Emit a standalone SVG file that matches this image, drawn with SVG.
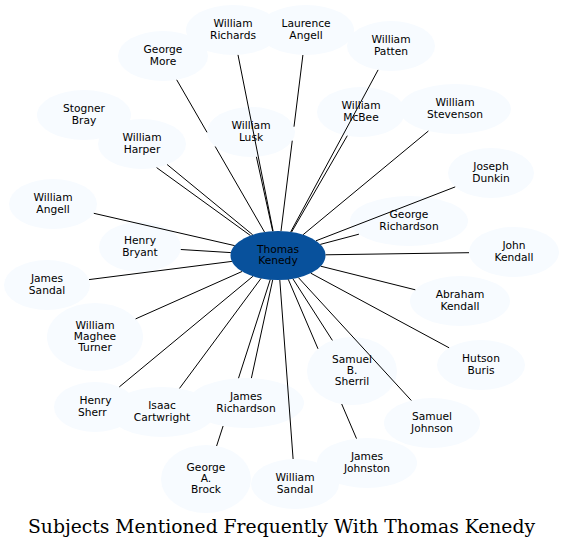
<svg xmlns="http://www.w3.org/2000/svg" width="564" height="549" viewBox="0 0 564 549">
<style>
.n ellipse{fill:#f7fbff;stroke:none}
.c ellipse{fill:#08519c;stroke:none}
text{font-family:"DejaVu Sans","Liberation Sans",sans-serif;font-size:10.67px;text-anchor:middle;fill:#000}
.t{font-family:"DejaVu Serif","Liberation Serif",serif;font-size:19px}
#edges path{stroke:#000;stroke-width:1;fill:none}
</style>
<rect width="564" height="549" fill="#fff"/>
<g id="nodes">
<g id="n-richards" class="n"><ellipse cx="233" cy="30" rx="47" ry="25"/><text x="233" y="27.4">William</text><text x="233" y="38.6">Richards</text></g>
<g id="n-laurence" class="n"><ellipse cx="306" cy="30" rx="48" ry="25"/><text x="306" y="27.4">Laurence</text><text x="306" y="38.6">Angell</text></g>
<g id="n-more" class="n"><ellipse cx="163" cy="56" rx="45" ry="25"/><text x="163" y="53.4">George</text><text x="163" y="64.6">More</text></g>
<g id="n-patten" class="n"><ellipse cx="391" cy="46" rx="44" ry="25"/><text x="391" y="43.4">William</text><text x="391" y="54.6">Patten</text></g>
<g id="n-bray" class="n"><ellipse cx="84" cy="115" rx="47" ry="25"/><text x="84" y="112.4">Stogner</text><text x="84" y="123.6">Bray</text></g>
<g id="n-harper" class="n"><ellipse cx="142" cy="144" rx="44" ry="25"/><text x="142" y="141.4">William</text><text x="142" y="152.6">Harper</text></g>
<g id="n-lusk" class="n"><ellipse cx="251" cy="132" rx="44" ry="25"/><text x="251" y="129.4">William</text><text x="251" y="140.6">Lusk</text></g>
<g id="n-mcbee" class="n"><ellipse cx="361" cy="112" rx="44" ry="25"/><text x="361" y="109.4">William</text><text x="361" y="120.6">McBee</text></g>
<g id="n-stevenson" class="n"><ellipse cx="455" cy="109" rx="56" ry="25"/><text x="455" y="106.4">William</text><text x="455" y="117.6">Stevenson</text></g>
<g id="n-dunkin" class="n"><ellipse cx="491" cy="173" rx="43" ry="25"/><text x="491" y="170.4">Joseph</text><text x="491" y="181.6">Dunkin</text></g>
<g id="n-grichardson" class="n"><ellipse cx="409" cy="221" rx="59" ry="25"/><text x="409" y="218.4">George</text><text x="409" y="229.6">Richardson</text></g>
<g id="n-wangell" class="n"><ellipse cx="53" cy="204" rx="44" ry="25"/><text x="53" y="201.4">William</text><text x="53" y="212.6">Angell</text></g>
<g id="n-bryant" class="n"><ellipse cx="140" cy="247" rx="41" ry="25"/><text x="140" y="244.4">Henry</text><text x="140" y="255.6">Bryant</text></g>
<g id="n-jkendall" class="n"><ellipse cx="514" cy="252" rx="45" ry="25"/><text x="514" y="249.4">John</text><text x="514" y="260.6">Kendall</text></g>
<g id="n-jsandal" class="n"><ellipse cx="47" cy="285" rx="43" ry="25"/><text x="47" y="282.4">James</text><text x="47" y="293.6">Sandal</text></g>
<g id="n-akendall" class="n"><ellipse cx="460" cy="301" rx="50" ry="25"/><text x="460" y="298.4">Abraham</text><text x="460" y="309.6">Kendall</text></g>
<g id="n-turner" class="n"><ellipse cx="95" cy="337" rx="48" ry="34"/><text x="95" y="328.8">William</text><text x="95" y="340">Maghee</text><text x="95" y="351.2">Turner</text></g>
<g id="n-ssherril" class="n"><ellipse cx="352" cy="371" rx="45" ry="34"/><text x="352" y="362.8">Samuel</text><text x="352" y="374">B.</text><text x="352" y="385.2">Sherril</text></g>
<g id="n-buris" class="n"><ellipse cx="481" cy="365" rx="44" ry="25"/><text x="481" y="362.4">Hutson</text><text x="481" y="373.6">Buris</text></g>
<g id="n-hsherr" class="n"><ellipse cx="95" cy="407" rx="41" ry="25"/><text x="95.5" y="404.4">Henry</text><text x="78" y="415.6" style="text-anchor:start">Sherr</text></g>
<g id="n-cartwright" class="n"><ellipse cx="162" cy="412" rx="53" ry="25"/><text x="162" y="409.4">Isaac</text><text x="162" y="420.6">Cartwright</text></g>
<g id="n-jrichardson" class="n"><ellipse cx="246" cy="403" rx="58" ry="25"/><text x="246" y="400.4">James</text><text x="246" y="411.6">Richardson</text></g>
<g id="n-sjohnson" class="n"><ellipse cx="432" cy="423" rx="48" ry="25"/><text x="432" y="420.4">Samuel</text><text x="432" y="431.6">Johnson</text></g>
<g id="n-johnston" class="n"><ellipse cx="367" cy="463" rx="50" ry="25"/><text x="367" y="460.4">James</text><text x="367" y="471.6">Johnston</text></g>
<g id="n-brock" class="n"><ellipse cx="206" cy="479" rx="45" ry="34"/><text x="206" y="470.8">George</text><text x="206" y="482">A.</text><text x="206" y="493.2">Brock</text></g>
<g id="n-wsandal" class="n"><ellipse cx="295" cy="484" rx="44" ry="25"/><text x="295" y="481.4">William</text><text x="295" y="492.6">Sandal</text></g>
<g id="n-kenedy" class="c"><ellipse cx="278" cy="255.5" rx="47.5" ry="24.5"/><text x="278" y="252.7">Thomas</text><text x="278" y="264.3">Kenedy</text></g>
</g>
<g id="edges">
<path d="M273.1,231.1L238,54.9"/>
<path d="M281,231.1L292.25,140.7M294,126.7L302.9,55"/>
<path d="M264.5,232L215.2,146.5M207,132.3L176.7,79.8"/>
<path d="M290.7,231.9L378.1,69.9"/>
<path d="M250.4,235.5L156.6,167.6"/>
<path d="M252.7,234.8L167.1,164.5"/>
<path d="M272.7,231.2L256.4,156.8"/>
<path d="M291.6,232L347.3,135.7"/>
<path d="M303.1,234.7L428.4,131"/>
<path d="M316,240.8L455.2,186.9"/>
<path d="M320.3,244.4L358.9,234.2"/>
<path d="M234.6,245.6L93.8,213.3"/>
<path d="M230.8,252.6L180.8,249.5"/>
<path d="M325.5,254.8L469,252.7"/>
<path d="M231.9,261.4L89,279.6"/>
<path d="M320.7,266.2L415.3,289.8"/>
<path d="M242,271.5L135.6,318.9"/>
<path d="M292.9,278.8L332.4,340.4"/>
<path d="M310.8,273.2L449.1,347.8"/>
<path d="M252.9,276.3L119.3,386.9"/>
<path d="M261,278.4L179.5,388.4"/>
<path d="M272.7,279.9L251.4,378.1"/>
<path d="M298.4,277.6L411.3,400.5"/>
<path d="M288.3,279.4L318,348.8M341.7,404L356.5,438.6"/>
<path d="M270.2,279.7L238.5,378.2M223.1,426L216.6,446"/>
<path d="M279.8,280L293.1,459"/>
</g>
<text class="t" x="281.5" y="533" textLength="507" lengthAdjust="spacingAndGlyphs">Subjects Mentioned Frequently With Thomas Kenedy</text>
</svg>
